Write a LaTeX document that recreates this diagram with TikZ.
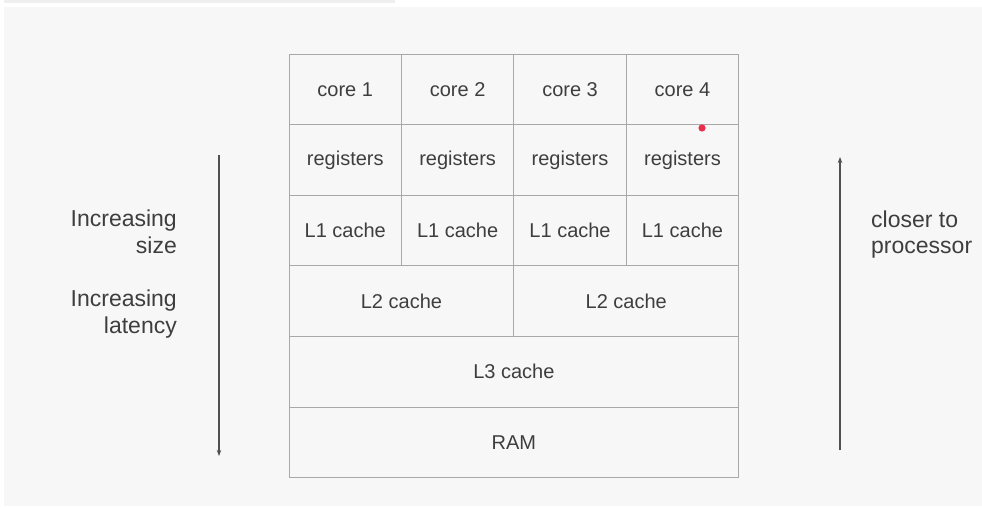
\documentclass[tikz,border=0pt]{standalone}
\usepackage{fontspec}
\setmainfont{Liberation Sans}
\usetikzlibrary{arrows.meta}
\definecolor{bgpanel}{HTML}{F7F7F7}
\definecolor{topstrip}{HTML}{EFEFEF}
\definecolor{gridline}{HTML}{A8A8A8}
\definecolor{labeltext}{HTML}{3E3E3E}
\definecolor{arrowline}{HTML}{505050}
\definecolor{marker}{HTML}{E8304A}
\tikzset{
  cell/.style={draw=gridline, line width=1.1pt, minimum width=112.4pt,
    minimum height=70.6pt, inner sep=0pt, anchor=north west,
    text=labeltext, font=\fontsize{20}{22}\selectfont},
  wide/.style={cell, minimum width=224.8pt},
  full/.style={cell, minimum width=449.6pt},
  sidelabel/.style={text=labeltext, font=\fontsize{23}{27}\selectfont,
    inner sep=0pt},
  levelarrow/.style={draw=arrowline, line width=1.1pt,
    -{Stealth[length=6pt,width=4.5pt]}}
}
\begin{document}
\begin{tikzpicture}[x=1pt,y=-1pt]
  % page background
  \fill[white] (0,0) rectangle (982,506);
  \useasboundingbox (0,0) rectangle (982,506);
  \fill[topstrip] (4,0) rectangle (395,3);
  \fill[bgpanel] (4,7) rectangle (982,506);

  % per-core rows
  \foreach \c in {1,2,3,4} {
    \pgfmathsetmacro{\xx}{288.5+112.4*(\c-1)}
    \node[cell] (core\c) at (\xx,53.5) {core \c};
    \node[cell] (reg\c)  at (\xx,124.1) {registers};
    \node[cell] (lone\c) at (\xx,194.7) {L1 cache};
  }
  % shared levels
  \node[wide] (ltwoA) at (288.5,265.3) {L2 cache};
  \node[wide] (ltwoB) at (513.3,265.3) {L2 cache};
  \node[full] (lthree) at (288.5,335.9) {L3 cache};
  \node[full] (ram) at (288.5,406.5) {RAM};

  % red marker
  \fill[marker] (702,128) circle (3.6pt);

  % left arrow and labels
  \coordinate (ltop) at (219,155);
  \coordinate (lbot) at (219,456);
  \draw[levelarrow] (ltop) -- (lbot);
  \node[sidelabel, anchor=base east] (incA) at (177,226) {Increasing};
  \node[sidelabel, anchor=base east] (size) at (177,253) {size};
  \node[sidelabel, anchor=base east] (incB) at (177,306) {Increasing};
  \node[sidelabel, anchor=base east] (latency) at (177,333) {latency};

  % right arrow and label
  \coordinate (rbot) at (840,450);
  \coordinate (rtop) at (840,157);
  \draw[levelarrow] (rbot) -- (rtop);
  \node[sidelabel, anchor=base west] (closer) at (871,227) {closer to};
  \node[sidelabel, anchor=base west] (processor) at (871,253) {processor};
\end{tikzpicture}
\end{document}
